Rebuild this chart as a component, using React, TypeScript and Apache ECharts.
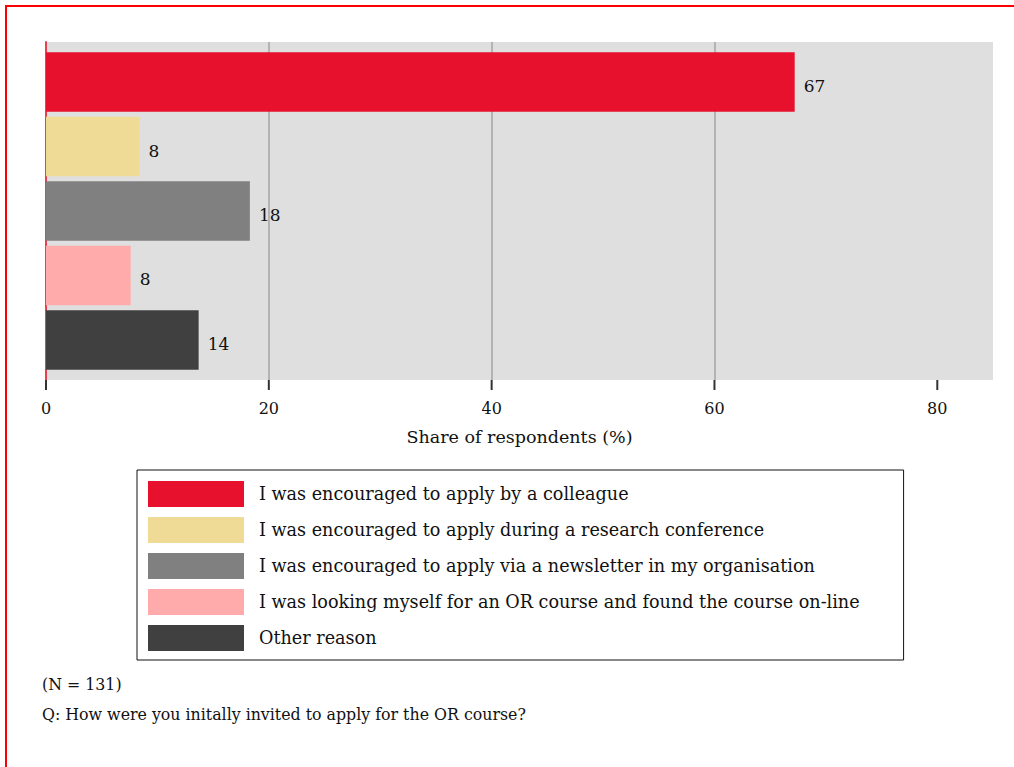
import React, { useEffect, useRef } from "react";
import * as echarts from "echarts";

const seriesNames = [
  "I was encouraged to apply by a colleague",
  "I was encouraged to apply during a research conference",
  "I was encouraged to apply via a newsletter in my organisation",
  "I was looking myself for an OR course and found the course on-line",
  "Other reason",
];
const shares = [67.2, 8.4, 18.3, 7.6, 13.7];
const colors = ["#e8112d", "#efdb96", "#808080", "#ffaaab", "#404040"];
const xTicks = [0, 20, 40, 60, 80];
const categories = ["All respondents"];
const footnotes = ["(N = 131)", "Q: How were you initally invited to apply for the OR course?"];

const FONT = "DejaVu Serif";
const GRID_BOTTOM_Y = 380;

export default function App() {
  const ref = useRef<HTMLDivElement>(null);
  useEffect(() => {
    if (!ref.current) return;
    const chart = echarts.init(ref.current, null, { renderer: "svg" });
    const barSeries = seriesNames.map((name, i) => ({
      name,
      type: "bar",
      data: [shares[i]],
      barWidth: 59.5,
      barGap: "8.4%",
      itemStyle: { color: colors[i] },
      label: {
        show: true,
        position: "right",
        distance: 9,
        offset: [0, 4],
        fontFamily: FONT,
        fontSize: 17,
        color: "#111",
        formatter: (p: any) => String(Math.round(p.value)),
      },
    }));
    const baseGraphic: any[] = [
      {
        id: "frame",
        type: "rect",
        shape: { x: 6, y: 6, width: 1200, height: 900 },
        style: { fill: "none", stroke: "#ff0000", lineWidth: 2 },
        silent: true,
      },
      {
        id: "fn0",
        type: "text",
        left: 42,
        top: 676,
        style: { text: footnotes[0], fontFamily: FONT, fontSize: 15.8, fill: "#111" },
      },
      {
        id: "fn1",
        type: "text",
        left: 42,
        top: 706,
        style: { text: footnotes[1], fontFamily: FONT, fontSize: 15.8, fill: "#111" },
      },
    ];
    chart.setOption({
      animation: false,
      textStyle: { fontFamily: FONT },
      grid: {
        left: 46,
        right: 21,
        top: 42,
        bottom: 767 - GRID_BOTTOM_Y,
        show: true,
        backgroundColor: "#dfdfdf",
        borderWidth: 0,
      },
      xAxis: {
        type: "value",
        min: 0,
        max: 85,
        interval: 20,
        name: "Share of respondents (%)",
        nameLocation: "middle",
        nameGap: 48,
        nameTextStyle: { fontFamily: FONT, fontSize: 17.5, color: "#111" },
        axisLine: { show: false },
        axisTick: { show: false },
        axisLabel: {
          fontFamily: FONT,
          fontSize: 16,
          color: "#111",
          margin: 20,
          customValues: xTicks,
        },
        splitLine: {
          show: true,
          lineStyle: { color: ["transparent", "#b3b3b3", "#b3b3b3", "#b3b3b3", "transparent"], width: 2 },
        },
      },
      yAxis: {
        type: "category",
        data: categories,
        inverse: true,
        axisLine: { show: true, lineStyle: { color: "#e8404f", width: 2 } },
        axisTick: { show: false },
        axisLabel: { show: false },
      },
      legend: {
        orient: "vertical",
        left: 137,
        top: 470,
        padding: [11, 44, 9, 11],
        borderColor: "#111",
        borderWidth: 1,
        itemWidth: 96,
        itemHeight: 26,
        itemGap: 10,
        icon: "rect",
        textStyle: { fontFamily: FONT, fontSize: 17.6, color: "#111", padding: [0, 0, 0, 10] },
        data: seriesNames,
      },
      graphic: baseGraphic,
      series: barSeries,
    });
    const tickRects = xTicks.map((v, i) => {
      const x = chart.convertToPixel({ xAxisIndex: 0 }, v) as number;
      return {
        id: "tick" + i,
        type: "rect",
        silent: true,
        z: 100,
        shape: { x: x - 1, y: GRID_BOTTOM_Y, width: 2, height: 10 },
        style: { fill: "#333" },
      };
    });
    chart.setOption({ graphic: [...baseGraphic, ...tickRects] });
    return () => chart.dispose();
  }, []);
  return (
    <div
      ref={ref}
      style={{ position: "absolute", left: 0, top: 0, width: 1014, height: 767, background: "#fff" }}
    />
  );
}
